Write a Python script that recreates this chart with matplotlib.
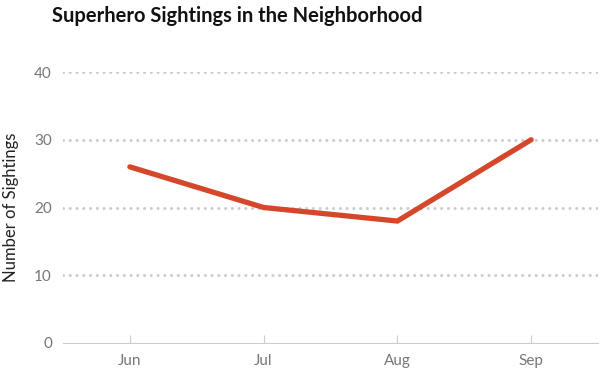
import matplotlib
matplotlib.use("Agg")
import matplotlib.pyplot as plt

months = ["Jun", "Jul", "Aug", "Sep"]
sightings = [26, 20, 18, 30]
yticks = [0, 10, 20, 30, 40]

plt.rcParams['font.family'] = ['Lato', 'DejaVu Sans']

fig = plt.figure(figsize=(6, 3.72), dpi=100)
ax = fig.add_axes([63/600, 29/372, 535/600, 271/372])

x = list(range(len(months)))
ax.plot(x, sightings, color="#d4472a", lw=3.8, solid_capstyle="round", solid_joinstyle="miter", zorder=3)

ax.set_xlim(-0.5, len(months) - 0.5)
ax.set_ylim(0, 40)
ax.set_xticks(x)
ax.set_xticklabels(months)
ax.set_yticks(yticks)
ax.set_yticklabels([str(v) for v in yticks])

for v in yticks[1:]:
    ax.axhline(v, color="#cccccc", lw=2.2, linestyle=(0, (0.01, 2.2)), dash_capstyle="round", zorder=1)

for s in ["top", "right", "left"]:
    ax.spines[s].set_visible(False)
ax.spines["bottom"].set_color("#cccccc")
ax.spines["bottom"].set_linewidth(0.8)

ax.tick_params(axis="x", direction="in", length=6, color="#cccccc", width=0.8,
               labelcolor="#777777", labelsize=11, pad=8)
ax.tick_params(axis="y", length=0, labelcolor="#777777", labelsize=11, pad=8)
ax.set_ylabel("Number of Sightings", fontsize=12, color="#222222")
ax.yaxis.set_label_coords(-0.083, 0.5)

fig.text(52/600, 1 - 22/372, "Superhero Sightings in the Neighborhood", fontsize=14.5,
         fontweight="bold", color="#111111", ha="left", va="baseline")

fig.savefig("out.png", dpi=100)
